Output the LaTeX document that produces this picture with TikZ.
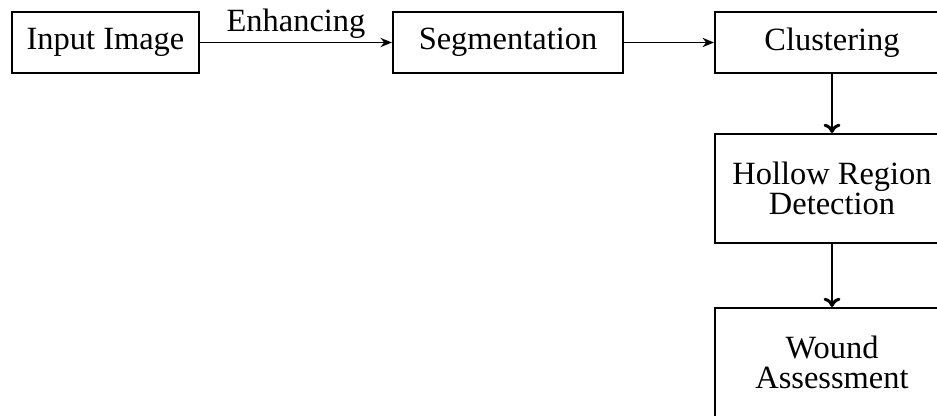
\documentclass[tikz,border=0pt]{standalone}
\usepackage{fontspec}
\setmainfont{Liberation Serif}
\usetikzlibrary{arrows.meta,positioning}

\begin{document}
\begin{tikzpicture}[x=0.013cm,y=-0.013cm,
  stepbox/.style={draw,line width=0.75pt,font=\fontsize{12}{11}\selectfont,align=center,
    minimum height=0.793cm,inner sep=0pt},
  arr/.style={-{Stealth[length=1.5mm,width=1.2mm]},line width=0.7pt},
  darr/.style={-{To[length=1.2mm,width=2.2mm]},line width=1.1pt}
]
  \useasboundingbox (0,0) rectangle (937,415);
  \clip (0,0) rectangle (937,415);

  % Processing chain
  \node[stepbox,minimum width=2.431cm] (input) at (105.5,42.5) {Input Image};
  \node[stepbox,minimum width=2.99cm] (seg) at (508,42.5) {Segmentation};
  \node[stepbox,minimum width=3.04cm] (clust) at (832,42.5) {Clustering};
  \node[stepbox,minimum width=3.04cm,minimum height=1.417cm] (hollow) at (832,188.5) {Hollow Region\\Detection};
  \node[stepbox,minimum width=3.04cm,minimum height=1.417cm] (wound) at (832,362.5) {Wound\\Assessment};

  \draw[arr] (input) -- node[above=0pt,inner sep=1pt,font=\fontsize{12}{11}\selectfont] (enh) {Enhancing} (seg);
  \draw[arr] (seg) -- (clust);

  % Downward steps
  \draw[darr] (clust) -- (hollow);
  \draw[darr] (hollow) -- (wound);
\end{tikzpicture}
\end{document}
